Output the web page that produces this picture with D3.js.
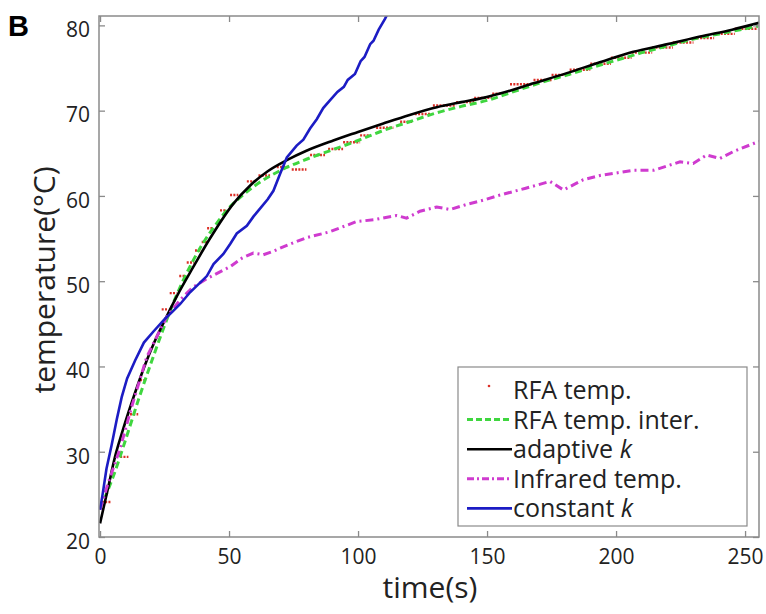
<!DOCTYPE html>
<html><head><meta charset="utf-8">
<script src="https://cdn.jsdelivr.net/npm/d3@7"></script>
<style>
html,body{margin:0;padding:0;background:#fff;}
svg{display:block;}
</style></head>
<body>
<script>
// ---------- DATA ----------
const xTicks = [0, 50, 100, 150, 200, 250];
const yTicks = [20, 30, 40, 50, 60, 70, 80];

// RFA temp. : quantized readings, each a short run of dots (start s, end s, temperature)
const rfaStart = [0.7, 7.8, 11.6, 15.5, 23.9, 27.0, 30.7, 33.6, 36.8, 39.4, 41.5, 46.5, 50.4, 56.9, 61.4, 68.5, 74.3, 81.4, 88.4, 94.2, 100.8, 107, 116.3, 122, 129, 138, 145, 152, 158.9, 168, 175, 182, 190, 198, 206, 214, 222, 230, 238, 246];
const rfaEnd   = [4.5, 11.0, 14.8, 18.1, 26.5, 29.7, 33.3, 36.5, 39.4, 41.5, 44.0, 49.1, 53.6, 60.1, 65.9, 73.6, 80.0, 87.2, 94.2, 100.8, 104.7, 113.7, 121.4, 128, 138, 145, 152, 158, 168, 175, 182, 190, 198, 206, 214, 222, 230, 238, 246, 255];
const rfaTemp  = [24.1, 29.4, 34.4, 38.4, 46.7, 48.6, 50.6, 52.2, 53.6, 54.6, 56.2, 58.3, 60.1, 61.7, 62.4, 63.4, 63.1, 64.8, 65.5, 66.3, 67.1, 68.0, 68.7, 69.6, 70.6, 71.0, 71.5, 72.0, 73.1, 73.6, 74.2, 74.8, 75.5, 76.2, 76.8, 77.4, 78.0, 78.5, 79.0, 79.6];

// RFA temp. inter.
const interT = [0, 5, 10, 15, 20, 25, 30, 35, 40, 45, 50, 55, 60, 70, 80, 90, 100, 110, 120, 130, 140, 150, 160, 170, 180, 190, 200, 210, 220, 230, 240, 250, 255];
const interV = [23.3, 27.0, 31.5, 36.2, 40.6, 44.8, 48.6, 51.8, 54.5, 56.7, 58.6, 60.0, 61.2, 63.0, 64.3, 65.4, 66.5, 67.7, 68.7, 69.7, 70.5, 71.2, 72.2, 73.2, 74.1, 75.0, 75.9, 76.8, 77.6, 78.4, 79.0, 79.6, 79.9];

// adaptive k
const adaptT = [0, 3, 5.8, 8.5, 11, 14, 18.1, 21, 24.5, 29.7, 36.2, 42.6, 51.7, 58.1, 65, 72.4, 80, 90.4, 100, 109.8, 120, 130.5, 140, 148.5, 155, 168, 180.9, 194, 206.7, 220, 232.6, 245, 255.4];
const adaptV = [21.6, 25.6, 29.4, 32.2, 34.6, 37.3, 40.7, 42.8, 45.05, 48.2, 51.7, 55.0, 59.1, 61.2, 62.9, 64.2, 65.3, 66.5, 67.5, 68.5, 69.5, 70.4, 71.0, 71.5, 72.0, 73.2, 74.4, 75.7, 76.9, 77.8, 78.7, 79.5, 80.3];

// Infrared temp.
const irT = [0, 3, 7.8, 12, 18.1, 22, 25.8, 31, 36, 41.4, 50.4, 55, 59.4, 63.3, 67, 72.4, 80, 89.1, 99.5, 106, 115, 118.8, 124, 130.5, 135.7, 142, 148.6, 155, 165, 174.4, 179.6, 187.3, 193.8, 206.7, 214.5, 224.8, 229.9, 235.1, 240.3, 245.5, 255.4];
const irV = [23.2, 26.2, 30.4, 35.0, 41.1, 43.5, 45.8, 47.8, 49.3, 50.3, 51.7, 52.7, 53.3, 53.1, 53.5, 54.2, 55.1, 55.8, 57.0, 57.2, 57.7, 57.4, 58.2, 58.7, 58.4, 59.0, 59.5, 60.1, 60.9, 61.7, 60.7, 61.9, 62.4, 63.0, 63.0, 64.0, 63.8, 64.8, 64.4, 65.2, 66.4];

// constant k
const constT = [0, 1, 2.5, 4.5, 6.5, 8.4, 10.5, 13.6, 17, 20.7, 25.2, 28, 31, 34.9, 38, 41.4, 44, 47.8, 50.5, 53, 56.9, 59.5, 62, 65, 67.2, 69.8, 72.4, 76.2, 78.8, 81.4, 84, 86.5, 89.1, 92, 94.5, 96, 98.8, 101, 102.5, 104.7, 106, 108, 110.5, 112.5];
const constV = [23.2, 25.0, 28.0, 30.8, 33.8, 36.4, 38.6, 40.7, 42.8, 44.1, 45.6, 46.4, 47.3, 48.7, 49.6, 50.6, 52.0, 53.2, 54.4, 55.6, 56.5, 57.6, 58.5, 59.6, 60.6, 62.6, 64.5, 65.9, 66.6, 67.9, 69.0, 70.3, 71.2, 72.2, 72.8, 73.6, 74.3, 75.8, 76.3, 77.8, 78.2, 79.5, 80.8, 82.0];

const legendLabels = ["RFA temp.", "RFA temp. inter.", "adaptive ", "Infrared temp.", "constant "];

// ---------- STYLE ----------
const W = 766, H = 614;
const plot = {left: 99, right: 759, top: 16, bottom: 537};
const C = {red: "#dc3028", green: "#3fd63f", black: "#000", magenta: "#cf3bcf", blue: "#1c1cc4", axis: "#8a8a8a", text: "#222"};
const FONT = "'Open Sans', 'DejaVu Sans', sans-serif";

const svg = d3.select("body").append("svg").attr("width", W).attr("height", H);

const x = d3.scaleLinear().domain([-0.4, 255.4]).range([plot.left, plot.right]);
const y = d3.scaleLinear().domain([20, 81.1]).range([plot.bottom, plot.top]);

svg.append("defs").append("clipPath").attr("id", "clip")
  .append("rect").attr("x", plot.left).attr("y", plot.top)
  .attr("width", plot.right - plot.left).attr("height", plot.bottom - plot.top);

const g = svg.append("g").attr("clip-path", "url(#clip)");

// RFA dots
g.append("g").selectAll("line").data(rfaTemp).join("line")
  .attr("x1", (d, i) => x(rfaStart[i])).attr("x2", (d, i) => x(rfaEnd[i]))
  .attr("y1", d => y(d)).attr("y2", d => y(d))
  .attr("stroke", C.red).attr("stroke-width", 2.4)
  .attr("stroke-dasharray", "2,1.3");

const line = d3.line().x(d => x(d[0])).y(d => y(d[1]));
const smooth = d3.line().x(d => x(d[0])).y(d => y(d[1])).curve(d3.curveMonotoneX);
const zipS = (T, V) => T.map((t, i) => [t, V[i]]);

g.append("path").datum(zipS(interT, interV)).attr("d", smooth)
  .attr("fill", "none").attr("stroke", C.green).attr("stroke-width", 3)
  .attr("stroke-dasharray", "7,4");
g.append("path").datum(zipS(adaptT, adaptV)).attr("d", smooth)
  .attr("fill", "none").attr("stroke", C.black).attr("stroke-width", 2.6);
g.append("path").datum(zipS(irT, irV)).attr("d", line)
  .attr("fill", "none").attr("stroke", C.magenta).attr("stroke-width", 3)
  .attr("stroke-dasharray", "8,4,2,4");
g.append("path").datum(zipS(constT, constV)).attr("d", line)
  .attr("fill", "none").attr("stroke", C.blue).attr("stroke-width", 2.6);

// frame
svg.append("rect").attr("x", plot.left).attr("y", plot.top)
  .attr("width", plot.right - plot.left).attr("height", plot.bottom - plot.top)
  .attr("fill", "none").attr("stroke", C.axis).attr("stroke-width", 1.5);

// axes (ticks inward, mirrored)
const tickLen = 6;
const styleAxis = sel => {
  sel.select(".domain").remove();
  sel.selectAll(".tick line").attr("stroke", C.axis).attr("stroke-width", 1.3);
  sel.selectAll(".tick text").attr("fill", C.text).attr("font-family", FONT).attr("font-size", 21);
};
svg.append("g").attr("transform", `translate(0,${plot.bottom})`)
  .call(d3.axisBottom(x).tickValues(xTicks).tickSizeInner(-tickLen).tickSizeOuter(0).tickPadding(12))
  .call(styleAxis);
svg.append("g").attr("transform", `translate(0,${plot.top})`)
  .call(d3.axisTop(x).tickValues(xTicks).tickSizeInner(-tickLen).tickSizeOuter(0).tickFormat(""))
  .call(styleAxis);
svg.append("g").attr("transform", `translate(${plot.left},0)`)
  .call(d3.axisLeft(y).tickValues(yTicks).tickSizeInner(-tickLen).tickSizeOuter(0).tickPadding(9))
  .call(styleAxis)
  .call(s => s.selectAll(".tick text").attr("dy", "0.68em").attr("y", -3));
svg.append("g").attr("transform", `translate(${plot.right},0)`)
  .call(d3.axisRight(y).tickValues(yTicks).tickSizeInner(-tickLen).tickSizeOuter(0).tickFormat(""))
  .call(styleAxis);

// axis labels
svg.append("text").attr("x", 430).attr("y", 598).attr("text-anchor", "middle")
  .attr("font-family", FONT).attr("font-size", 30).attr("fill", C.text).text("time(s)");
svg.append("text").attr("transform", "translate(55,280) rotate(-90)").attr("text-anchor", "middle")
  .attr("font-family", FONT).attr("font-size", 30).attr("fill", C.text).text("temperature(°C)");

// panel letter
svg.append("text").attr("x", 8).attr("y", 36)
  .attr("font-family", "'Liberation Sans', Arial, sans-serif").attr("font-weight", "bold")
  .attr("font-size", 29).attr("fill", "#000").text("B");

// legend
const lg = svg.append("g");
lg.append("rect").attr("x", 458).attr("y", 367).attr("width", 289).attr("height", 159)
  .attr("fill", "#fff").attr("stroke", C.axis).attr("stroke-width", 1.2);
const rowY = i => 390 + i * 29.6;
const sx0 = 467, sx1 = 512, tx = 513;
lg.append("circle").attr("cx", 489).attr("cy", rowY(0) - 4).attr("r", 1.3).attr("fill", C.red);
lg.append("line").attr("x1", sx0).attr("x2", sx1).attr("y1", rowY(1)).attr("y2", rowY(1))
  .attr("stroke", C.green).attr("stroke-width", 3).attr("stroke-dasharray", "6,3");
lg.append("line").attr("x1", sx0).attr("x2", sx1).attr("y1", rowY(2)).attr("y2", rowY(2))
  .attr("stroke", C.black).attr("stroke-width", 2.6);
lg.append("line").attr("x1", sx0).attr("x2", sx1).attr("y1", rowY(3)).attr("y2", rowY(3))
  .attr("stroke", C.magenta).attr("stroke-width", 3).attr("stroke-dasharray", "7,3,2,3");
lg.append("line").attr("x1", sx0).attr("x2", sx1).attr("y1", rowY(4)).attr("y2", rowY(4))
  .attr("stroke", C.blue).attr("stroke-width", 2.6);
legendLabels.forEach((lab, i) => {
  const t = lg.append("text").attr("x", tx).attr("y", rowY(i) + 9)
    .attr("font-family", FONT).attr("font-size", 25).attr("fill", C.text).text(lab);
  if (i === 2 || i === 4) t.append("tspan").attr("font-style", "italic").text("k");
});
</script>
</body></html>
